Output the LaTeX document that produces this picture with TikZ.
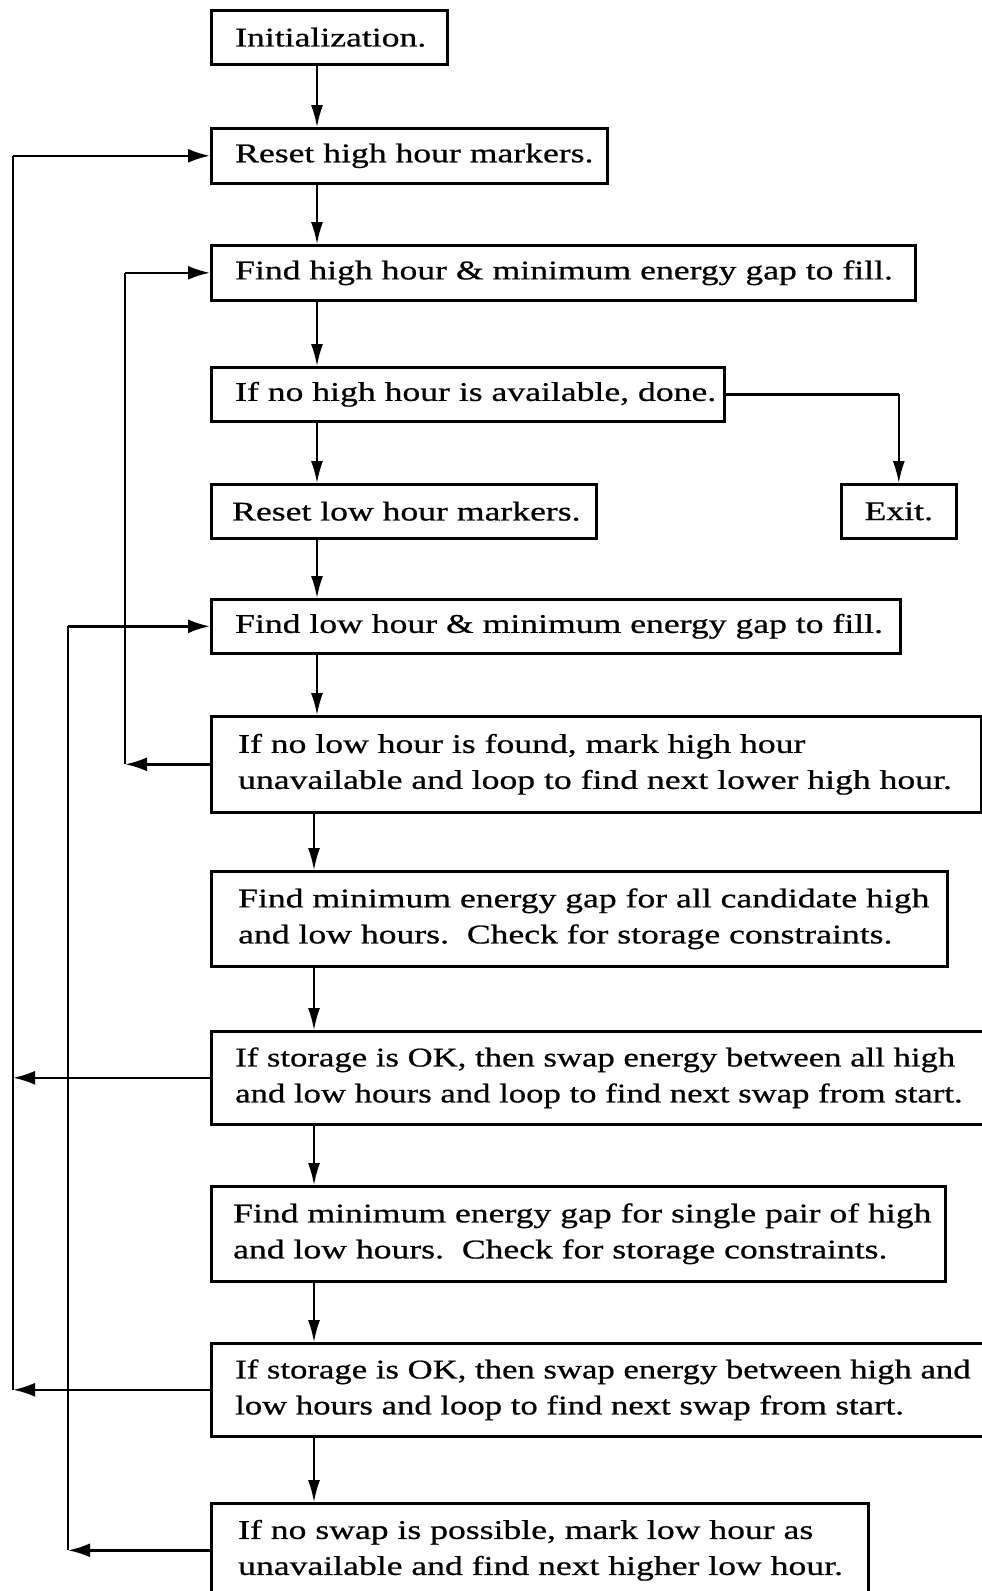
\documentclass[tikz,border=0pt]{standalone}
\usepackage{fontspec}
\setmainfont{Liberation Serif}[FakeStretch=1.32, FakeBold=0.7]
\usetikzlibrary{arrows.meta}

\tikzset{
  stepbox/.style={draw, line width=2.6pt, anchor=north west, inner sep=0pt},
  boxtext/.style={anchor=west, inner sep=0pt, align=left,
    font=\fontsize{27}{36}\selectfont},
  tighttext/.style={boxtext, font=\fontsize{27}{36}\selectfont\addfontfeature{FakeStretch=1.285}},
  down/.style={line width=1.7pt, -{Latex[length=22pt,width=12pt]}},
  back/.style={line width=2.6pt, -{Latex[length=22pt,width=14pt]}},
  rail/.style={line width=2pt},
}

\begin{document}
\begin{tikzpicture}[x=1pt,y=-1pt]
\useasboundingbox[fill=white] (0,0) rectangle (982,1591);

% process boxes (left, top) with their sizes
\node[stepbox, minimum width=236pt, minimum height=54pt] (init) at (210,9) {};
\node[stepbox, minimum width=396pt, minimum height=55pt] (resethigh) at (210,127) {};
\node[stepbox, minimum width=704pt, minimum height=55pt] (findhigh) at (210,244) {};
\node[stepbox, minimum width=513pt, minimum height=54pt] (nohigh) at (210,366) {};
\node[stepbox, minimum width=115pt, minimum height=54pt] (exit) at (840,483) {};
\node[stepbox, minimum width=385pt, minimum height=54pt] (resetlow) at (210,483) {};
\node[stepbox, minimum width=689pt, minimum height=54pt] (findlow) at (210,598) {};
\node[stepbox, minimum width=770pt, minimum height=96pt] (nolow) at (210,715) {};
\node[stepbox, minimum width=736pt, minimum height=95pt] (minall) at (210,870) {};
\node[stepbox, minimum width=776pt, minimum height=93pt] (swapall) at (210,1030) {};
\node[stepbox, minimum width=734pt, minimum height=95pt] (minsingle) at (210,1185) {};
\node[stepbox, minimum width=776pt, minimum height=93pt] (swap) at (210,1342) {};
\node[stepbox, minimum width=657pt, minimum height=94pt] (noswap) at (210,1502) {};

% box texts
\node[boxtext] (init-t) at ([xshift=25pt]init.west) {Initialization.};
\node[boxtext] (resethigh-t) at ([xshift=25pt]resethigh.west) {Reset high hour markers.};
\node[boxtext] (findhigh-t) at ([xshift=25pt]findhigh.west) {Find high hour \& minimum energy gap to fill.};
\node[boxtext] (nohigh-t) at ([xshift=25pt]nohigh.west) {If no high hour is available, done.};
\node[boxtext, anchor=center] (exit-t) at (exit.center) {Exit.};
\node[boxtext] (resetlow-t) at ([xshift=22pt]resetlow.west) {Reset low hour markers.};
\node[boxtext] (findlow-t) at ([xshift=25pt]findlow.west) {Find low hour \& minimum energy gap to fill.};
\node[boxtext] (nolow-t) at ([xshift=28pt]nolow.west) {If no low hour is found, mark high hour\\unavailable and loop to find next lower high hour.};
\node[boxtext] (minall-t) at ([xshift=28pt]minall.west) {Find minimum energy gap for all candidate high\\and low hours.\ \ Check for storage constraints.};
\node[tighttext] (swapall-t) at ([xshift=25pt]swapall.west) {If storage is OK, then swap energy between all high\\and low hours and loop to find next swap from start.};
\node[boxtext] (minsingle-t) at ([xshift=23pt]minsingle.west) {Find minimum energy gap for single pair of high\\and low hours.\ \ Check for storage constraints.};
\node[tighttext] (swap-t) at ([xshift=25pt]swap.west) {If storage is OK, then swap energy between high and\\low hours and loop to find next swap from start.};
\node[boxtext] (noswap-t) at ([xshift=28pt]noswap.west) {If no swap is possible, mark low hour as\\unavailable and find next higher low hour.};

% columns used by the connectors
\coordinate (main) at (317,0);
\coordinate (main2) at (314,0);
\coordinate (outer) at (13,0);
\coordinate (middle) at (68,0);
\coordinate (inner) at (125,0);

% main sequence
\draw[down] (init.south -| main) -- (resethigh.north -| main);
\draw[down] (resethigh.south -| main) -- (findhigh.north -| main);
\draw[down] (findhigh.south -| main) -- (nohigh.north -| main);
\draw[down] (nohigh.south -| main) -- (resetlow.north -| main);
\draw[down] (resetlow.south -| main) -- (findlow.north -| main);
\draw[down] (findlow.south -| main) -- (nolow.north -| main);
\draw[down] (nolow.south -| main2) -- (minall.north -| main2);
\draw[down] (minall.south -| main2) -- (swapall.north -| main2);
\draw[down] (swapall.south -| main2) -- (minsingle.north -| main2);
\draw[down] (minsingle.south -| main2) -- (swap.north -| main2);
\draw[down] (swap.south -| main2) -- (noswap.north -| main2);

% exit branch
\draw[line width=2.6pt] (nohigh.east) -- (nohigh.east -| exit.north);
\draw[down] (nohigh.east -| exit.north) -- (exit.north);

% loop back to the start of the high hour search
\draw[back] (swapall.west) -- (swapall.west -| outer);
\draw[back] (swap.west) -- (swap.west -| outer);
\draw[rail] (swap.west -| outer) -- (resethigh.west -| outer);
\draw[back] (resethigh.west -| outer) -- (resethigh.west);

% loop to the next lower high hour
\draw[back] (nolow.west) -- (nolow.west -| inner);
\draw[rail] (nolow.west -| inner) -- (findhigh.west -| inner);
\draw[back] (findhigh.west -| inner) -- (findhigh.west);

% loop to the next higher low hour
\draw[back] (noswap.west) -- (noswap.west -| middle);
\draw[rail] (noswap.west -| middle) -- (findlow.west -| middle);
\draw[back] (findlow.west -| middle) -- (findlow.west);
\end{tikzpicture}
\end{document}
